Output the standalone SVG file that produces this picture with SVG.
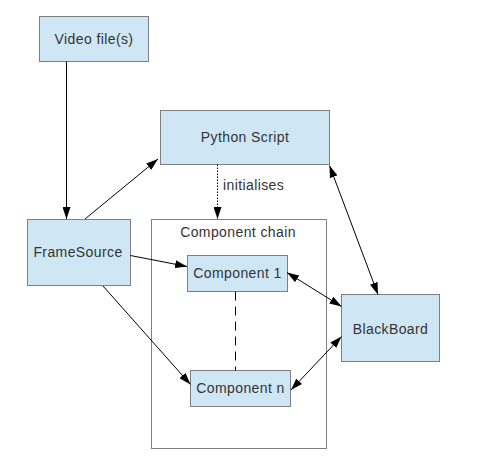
<svg xmlns="http://www.w3.org/2000/svg" width="500" height="470" viewBox="0 0 500 470">
<defs>
<style>
.box{fill:#cfe7f5;stroke:#7f7f7f;stroke-width:1}
.frame{fill:#ffffff;stroke:#7f7f7f;stroke-width:1}
.lbl{font-family:"Liberation Sans",Arial,sans-serif;font-size:14px;fill:#333333;text-anchor:middle;letter-spacing:0.4px}
.edge{stroke:#000000;stroke-width:1;fill:none}
</style>
<marker id="ah" viewBox="0 0 12 8" refX="12" refY="4" markerWidth="12" markerHeight="8" markerUnits="userSpaceOnUse" orient="auto-start-reverse">
<path d="M0,0 L12,4 L0,8 Z" fill="#000000"/>
</marker>
</defs>
<rect width="500" height="470" fill="#ffffff"/>
<g id="chain">
<rect class="frame" x="151.5" y="219.5" width="175" height="229"/>
<text class="lbl" x="238" y="236.5">Component chain</text>
</g>
<g id="video">
<rect class="box" x="39.5" y="16.5" width="109" height="45"/>
<text class="lbl" x="94" y="44">Video file(s)</text>
</g>
<g id="python">
<rect class="box" x="160.5" y="110.5" width="169" height="54"/>
<text class="lbl" x="245" y="142">Python Script</text>
</g>
<g id="framesource">
<rect class="box" x="27.5" y="219.5" width="103" height="66"/>
<text class="lbl" x="78" y="257">FrameSource</text>
</g>
<g id="comp1">
<rect class="box" x="187.5" y="255.5" width="100" height="36"/>
<text class="lbl" x="237.5" y="277.5">Component 1</text>
</g>
<g id="compn">
<rect class="box" x="190.5" y="370.5" width="100" height="36"/>
<text class="lbl" x="240.5" y="393">Component n</text>
</g>
<g id="blackboard">
<rect class="box" x="341.5" y="294.5" width="98" height="67"/>
<text class="lbl" x="390.5" y="333.5">BlackBoard</text>
</g>
<g id="connectors">
<line class="edge" x1="66.5" y1="61.5" x2="66.5" y2="219" marker-end="url(#ah)"/>
<line class="edge" x1="85" y1="219" x2="158" y2="159" marker-end="url(#ah)"/>
<line class="edge" x1="217.5" y1="164.5" x2="217.5" y2="219" stroke-dasharray="1.5,1.5" marker-end="url(#ah)"/>
<text x="223" y="190" style="font-family:'Liberation Sans',Arial,sans-serif;font-size:14px;fill:#333333;letter-spacing:0.4px">initialises</text>
<line class="edge" x1="130.5" y1="255.5" x2="187" y2="266.5" marker-end="url(#ah)"/>
<line class="edge" x1="103" y1="286" x2="190.5" y2="384.5" marker-end="url(#ah)"/>
<line class="edge" x1="329.5" y1="165.5" x2="378" y2="294.5" marker-start="url(#ah)" marker-end="url(#ah)"/>
<line class="edge" x1="287" y1="272.5" x2="341.5" y2="306.5" marker-start="url(#ah)" marker-end="url(#ah)"/>
<line class="edge" x1="291" y1="390" x2="341.5" y2="336.5" marker-start="url(#ah)" marker-end="url(#ah)"/>
<line class="edge" x1="235.5" y1="291.5" x2="235.5" y2="370.5" stroke-dasharray="9,6"/>
</g>
</svg>
